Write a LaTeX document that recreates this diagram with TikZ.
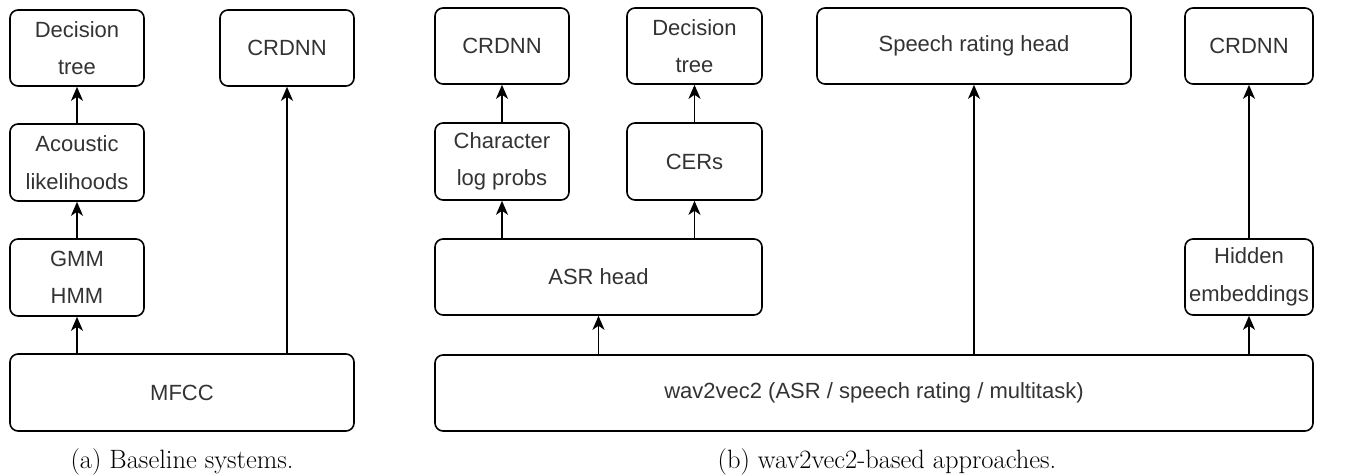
\documentclass[tikz,border=0pt]{standalone}
\usepackage{fontspec}
\newfontfamily\boxfont{Liberation Sans}
\usetikzlibrary{arrows.meta}
\definecolor{boxtext}{HTML}{333333}
\tikzset{
  blk/.style={draw=black, rounded corners=8pt, line width=1.6pt, text=boxtext,
    font=\boxfont\fontsize{22}{37.5}\selectfont, align=center, inner sep=0pt},
  arr/.style={-{Stealth[length=14pt,width=12pt,inset=4pt]}, line width=1.6pt},
  captiontext/.style={font=\fontsize{26.5}{30}\selectfont, anchor=base, inner sep=0pt}
}
\begin{document}
\begin{tikzpicture}[x=1pt,y=-1pt]
\useasboundingbox (0,0) rectangle (1347,474);
% (a)
\node[blk, minimum width=134pt, minimum height=76pt] (adt) at (77,48) {Decision\\tree};
\node[blk, minimum width=134pt, minimum height=76pt] (acrd) at (287,48) {CRDNN};
\node[blk, minimum width=134pt, minimum height=77pt] (aac) at (77,162.5) {Acoustic\\likelihoods};
\node[blk, minimum width=134pt, minimum height=77pt] (agmm) at (77,277.5) {GMM\\HMM};
\node[blk, minimum width=344pt, minimum height=77pt] (amfcc) at (182,392.5) {MFCC};
\draw[arr] (agmm.south |- amfcc.north) -- (agmm.south);
\draw[arr] (agmm.north) -- (aac.south);
\draw[arr] (aac.north) -- (adt.south);
\draw[arr] (acrd.south |- amfcc.north) -- (acrd.south);
% (b)
\node[blk, minimum width=134pt, minimum height=76pt] (bcrd) at (502,46) {CRDNN};
\node[blk, minimum width=135pt, minimum height=76pt] (bdt) at (694.5,46) {Decision\\tree};
\node[blk, minimum width=134pt, minimum height=77pt] (bchr) at (502,161.5) {Character\\log probs};
\node[blk, minimum width=135pt, minimum height=77pt] (bcer) at (694.5,161.5) {CERs};
\node[blk, minimum width=327pt, minimum height=76pt] (basr) at (598.5,277) {ASR head};
\node[blk, minimum width=878pt, minimum height=76pt] (bw2v) at (874,393) {wav2vec2 (ASR / speech rating / multitask)};
\node[blk, minimum width=314pt, minimum height=76pt] (bspr) at (974,46) {Speech rating head};
\node[blk, minimum width=128pt, minimum height=76pt] (bcrd2) at (1249,46) {CRDNN};
\node[blk, minimum width=128pt, minimum height=76pt] (bhid) at (1249,277) {Hidden\\embeddings};
\draw[arr] (basr.south |- bw2v.north) -- (basr.south);
\draw[arr] (bchr.south |- basr.north) -- (bchr.south);
\draw[arr] (bcer.south |- basr.north) -- (bcer.south);
\draw[arr] (bchr.north) -- (bcrd.south);
\draw[arr] (bcer.north) -- (bdt.south);
\draw[arr] (bspr.south |- bw2v.north) -- (bspr.south);
\draw[arr] (bhid.south |- bw2v.north) -- (bhid.south);
\draw[arr] (bhid.north) -- (bcrd2.south);
% captions
\node[captiontext] (capa) at (182,468) {(a) Baseline systems.};
\node[captiontext] (capb) at (887,468) {(b) wav2vec2-based approaches.};
\end{tikzpicture}
\end{document}
